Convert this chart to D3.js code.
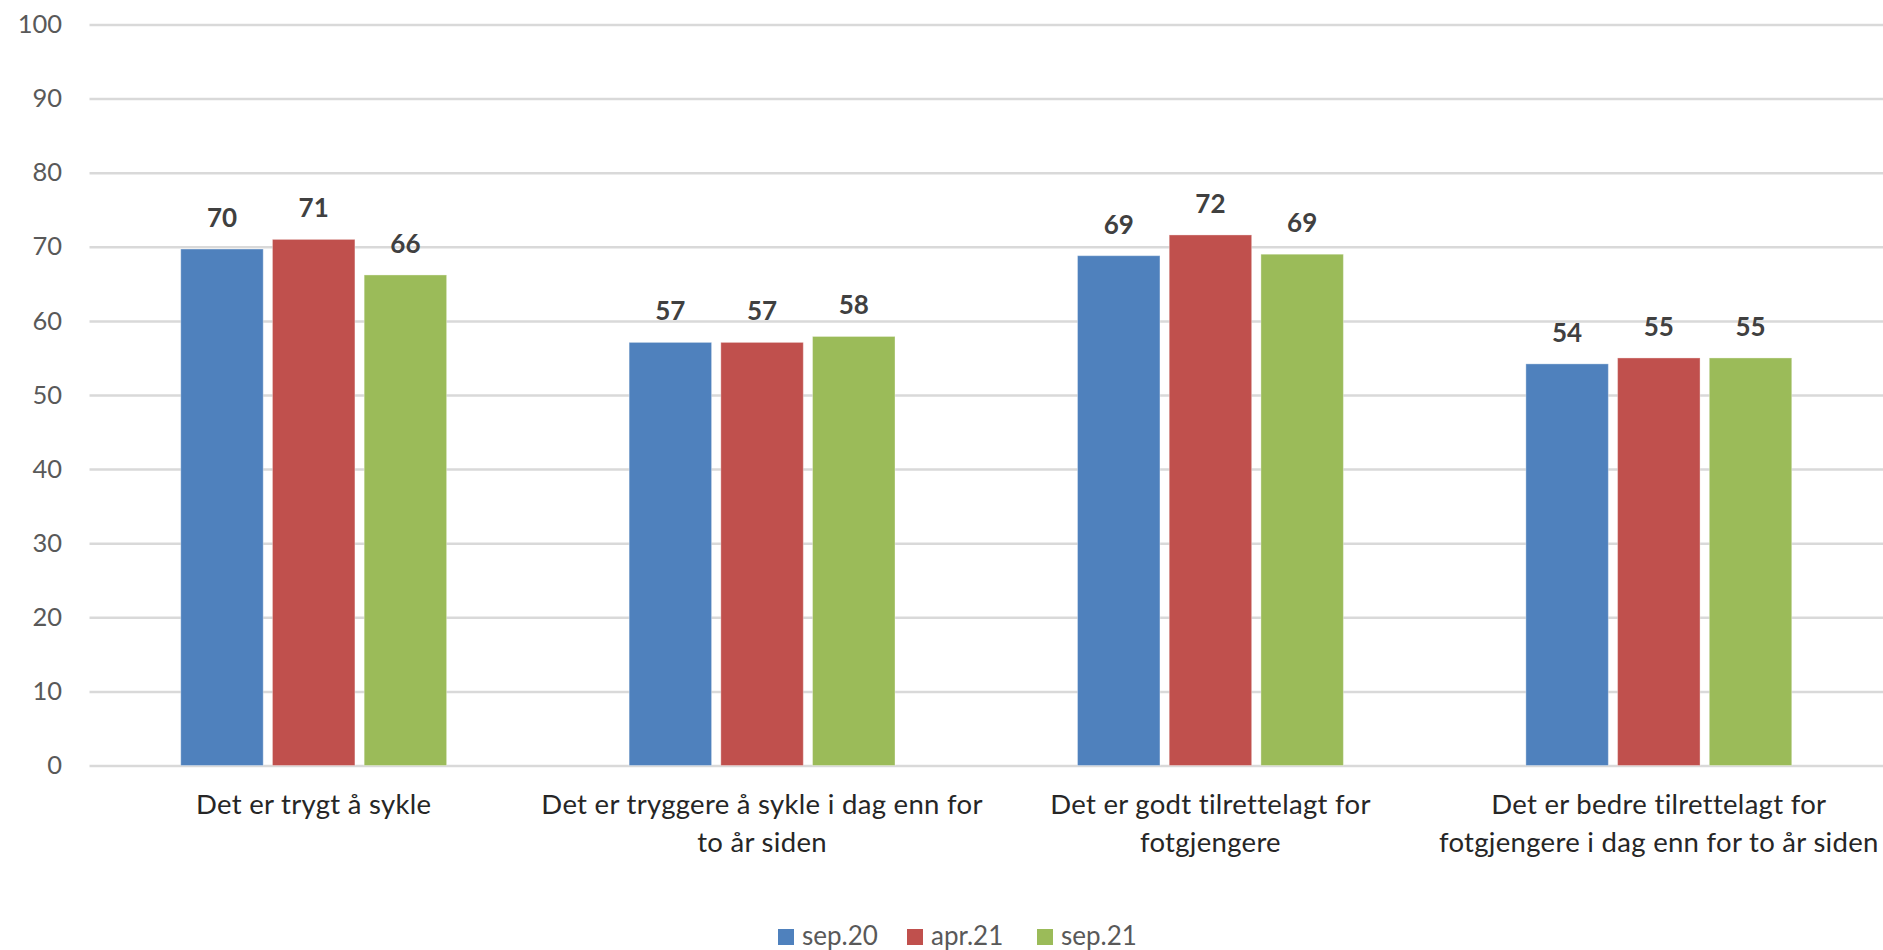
<!DOCTYPE html>
<html>
<head>
<meta charset="utf-8">
<script src="https://cdn.jsdelivr.net/npm/d3@7"></script>
<style>
  html, body { margin: 0; padding: 0; background: #ffffff; }
  svg { display: block; font-family: Lato, "Open Sans", sans-serif; }
</style>
</head>
<body>
<svg id="chart" width="1883" height="950"></svg>
<script>
// ---- data ----
const categories = [
  "Det er trygt å sykle",
  "Det er tryggere å sykle i dag enn for to år siden",
  "Det er godt tilrettelagt for fotgjengere",
  "Det er bedre tilrettelagt for fotgjengere i dag enn for to år siden"
];
const categoryLines = [
  ["Det er trygt å sykle"],
  ["Det er tryggere å sykle i dag enn for", "to år siden"],
  ["Det er godt tilrettelagt for", "fotgjengere"],
  ["Det er bedre tilrettelagt for", "fotgjengere i dag enn for to år siden"]
];
const seriesNames = ["sep.20", "apr.21", "sep.21"];
const sep20 = [69.7, 57.1, 68.8, 54.2];
const apr21 = [71.0, 57.1, 71.6, 55.0];
const sep21 = [66.2, 57.9, 69.0, 55.0];
const seriesValues = [sep20, apr21, sep21];
const seriesColors = ["#4F81BD", "#C0504D", "#9BBB59"];
const yTicks = [0, 10, 20, 30, 40, 50, 60, 70, 80, 90, 100];

// ---- layout ----
const svg = d3.select("#chart");
const plotLeft = 89.5, plotRight = 1883, plotTop = 24.5, plotBottom = 765.5;

const y = d3.scaleLinear().domain([0, 100]).range([plotBottom, plotTop]);
const x0 = d3.scaleBand().domain(categories).range([plotLeft, plotRight])
  .paddingInner(0.407).paddingOuter(0.2035);
const x1 = d3.scaleBand().domain(seriesNames).range([0, x0.bandwidth()])
  .paddingInner(0.1008);
const color = d3.scaleOrdinal().domain(seriesNames).range(seriesColors);

// gridlines + y axis
const yAxis = d3.axisLeft(y).tickValues(yTicks)
  .tickSize(-(plotRight - plotLeft)).tickPadding(27.5).tickFormat(d3.format("d"));
const gy = svg.append("g").attr("transform", `translate(${plotLeft},0)`).call(yAxis);
gy.select(".domain").remove();
gy.selectAll(".tick line").attr("stroke", "#d9d9d9").attr("stroke-width", 2.5);
gy.selectAll(".tick text").attr("fill", "#595959").attr("font-size", "25.5px")
  .attr("font-family", "Lato, sans-serif");

// bars
const rows = categories.map((c, i) => ({
  cat: c,
  vals: seriesNames.map((s, j) => ({ s, v: seriesValues[j][i] }))
}));

const groups = svg.append("g").selectAll("g").data(rows).join("g")
  .attr("transform", d => `translate(${x0(d.cat)},0)`);

groups.selectAll("rect").data(d => d.vals).join("rect")
  .attr("x", d => x1(d.s))
  .attr("y", d => y(d.v))
  .attr("width", x1.bandwidth())
  .attr("height", d => y(0) - y(d.v))
  .attr("fill", d => color(d.s))
  .attr("stroke", "#ffffff").attr("stroke-opacity", 0.35).attr("stroke-width", 1);

groups.selectAll("text").data(d => d.vals).join("text")
  .attr("x", d => x1(d.s) + x1.bandwidth() / 2)
  .attr("y", d => y(d.v) - 22)
  .attr("text-anchor", "middle")
  .attr("font-size", "26px").attr("font-weight", "bold").attr("fill", "#404040")
  .text(d => Math.round(d.v));

// x category labels
const xl = svg.append("g").selectAll("text").data(categories).join("text")
  .attr("x", d => x0(d) + x0.bandwidth() / 2)
  .attr("y", 814)
  .attr("text-anchor", "middle")
  .attr("font-size", "27.5px").attr("letter-spacing", "0.3px").attr("fill", "#262626");
xl.each(function(d, i) {
  const t = d3.select(this);
  categoryLines[i].forEach((line, k) => {
    t.append("tspan").attr("x", x0(d) + x0.bandwidth() / 2)
      .attr("dy", k === 0 ? 0 : 38).text(line);
  });
});

// legend
const legendX = [778, 907, 1037];
const lg = svg.append("g").selectAll("g").data(seriesNames).join("g")
  .attr("transform", (d, i) => `translate(${legendX[i]},929)`);
lg.append("rect").attr("width", 16).attr("height", 16).attr("fill", d => color(d));
lg.append("text").attr("x", 24).attr("y", 16)
  .attr("font-size", "26px").attr("fill", "#595959").text(d => d);
</script>
</body>
</html>
